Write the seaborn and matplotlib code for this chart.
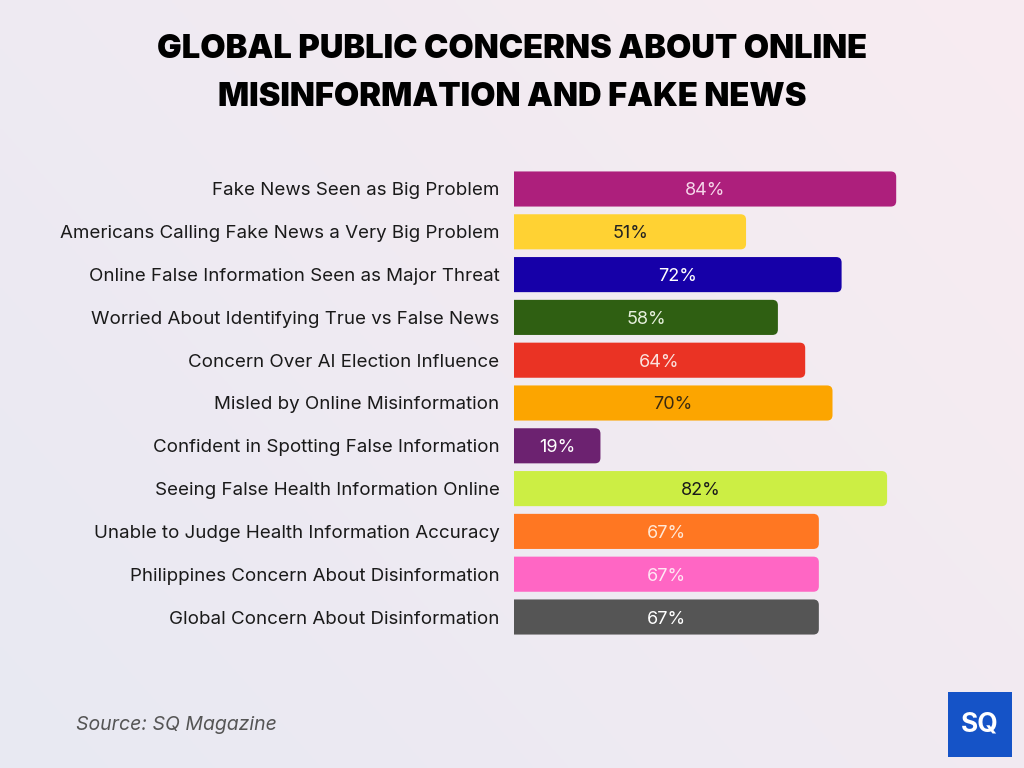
import numpy as np
import pandas as pd
import seaborn as sns
import matplotlib.pyplot as plt
from matplotlib.patches import FancyBboxPatch, Rectangle

# data
categories = [
    "Fake News Seen as Big Problem",
    "Americans Calling Fake News a Very Big Problem",
    "Online False Information Seen as Major Threat",
    "Worried About Identifying True vs False News",
    "Concern Over AI Election Influence",
    "Misled by Online Misinformation",
    "Confident in Spotting False Information",
    "Seeing False Health Information Online",
    "Unable to Judge Health Information Accuracy",
    "Philippines Concern About Disinformation",
    "Global Concern About Disinformation",
]
values = [84, 51, 72, 58, 64, 70, 19, 82, 67, 67, 67]
bar_colors = ["#AD1F7C", "#FFD233", "#1600A8", "#2F5F12", "#EA3324", "#FCA500",
              "#6C2270", "#CCEE44", "#FF7722", "#FF66C4", "#555555"]
label_colors = ["#F6D6EA", "#222222", "#FFFFFF", "#E6F0DC", "#FBE2DE", "#3A2A10",
                "#FFFFFF", "#1A1A1A", "#FFE8D6", "#FFE6F4", "#FFFFFF"]

df = pd.DataFrame({"category": categories, "value": values})

sns.set_theme(style="white")
plt.rcParams['font.family'] = ['Inter', 'DejaVu Sans']

fig = plt.figure(figsize=(10.24, 7.68), dpi=100)

# soft lavender -> pink background gradient
bg = fig.add_axes([0, 0, 1, 1], zorder=-10)
xx = np.linspace(0, 1, 256)
yy = np.linspace(0, 1, 256)
X, Y = np.meshgrid(xx, yy)
t = np.clip(0.6 * X + 0.4 * (1 - Y), 0, 1)
c1 = np.array([232, 233, 243]) / 255
c2 = np.array([248, 236, 241]) / 255
img = c1[None, None, :] * (1 - t[..., None]) + c2[None, None, :] * t[..., None]
bg.imshow(img, aspect="auto", extent=[0, 1, 0, 1], origin="upper")
bg.axis("off")

ax = fig.add_axes([514 / 1024, 1 - 638.4 / 768, 455 / 1024, 470.8 / 768])
ax.patch.set_alpha(0)
sns.barplot(data=df, x="value", y="category", hue="category", palette=bar_colors,
            legend=False, width=0.82, saturation=1, ax=ax)
ax.set_xlim(0, 100)
ax.set_ylim(10.5, -0.5)

# swap plain bars for ones with rounded corners
for p in list(ax.patches):
    x0, y0, w, h = p.get_x(), p.get_y(), p.get_width(), p.get_height()
    fc = p.get_facecolor()
    p.remove()
    ax.add_patch(FancyBboxPatch((x0 - 2, y0), w + 2, h,
                                boxstyle="round,pad=0,rounding_size=1.2",
                                mutation_aspect=0.106, facecolor=fc,
                                edgecolor="none", clip_on=True))

for i, v in enumerate(values):
    ax.text(v / 2, i, f"{v}%", ha="center", va="center_baseline", fontsize=13,
            color=label_colors[i])

ax.set_xlabel("")
ax.set_ylabel("")
ax.set_xticks([])
ax.tick_params(axis="y", length=0, pad=10.5, labelsize=13.5, labelcolor="#1a1a1a")
sns.despine(ax=ax, left=True, bottom=True)

fig.text(0.5, 1 - 50 / 768, "GLOBAL PUBLIC CONCERNS ABOUT ONLINE", ha="center",
         va="center", fontsize=23.5, fontweight="black", color="#000000")
fig.text(0.5, 1 - 97 / 768, "MISINFORMATION AND FAKE NEWS", ha="center",
         va="center", fontsize=23.5, fontweight="black", color="#000000")

fig.text(76 / 1024, 1 - 725 / 768, "Source: SQ Magazine", ha="left", va="center",
         fontsize=14, style="italic", color="#555555")

# SQ logo box
logo = fig.add_axes([948 / 1024, 1 - 757 / 768, 64 / 1024, 65 / 768])
logo.add_patch(Rectangle((0, 0), 1, 1, facecolor="#1553C7", edgecolor="none"))
logo.text(0.5, 0.5, "SQ", ha="center", va="center", fontsize=19,
          fontweight="bold", color="white")
logo.set_xlim(0, 1)
logo.set_ylim(0, 1)
logo.axis("off")

fig.savefig("out.png", dpi=100)
